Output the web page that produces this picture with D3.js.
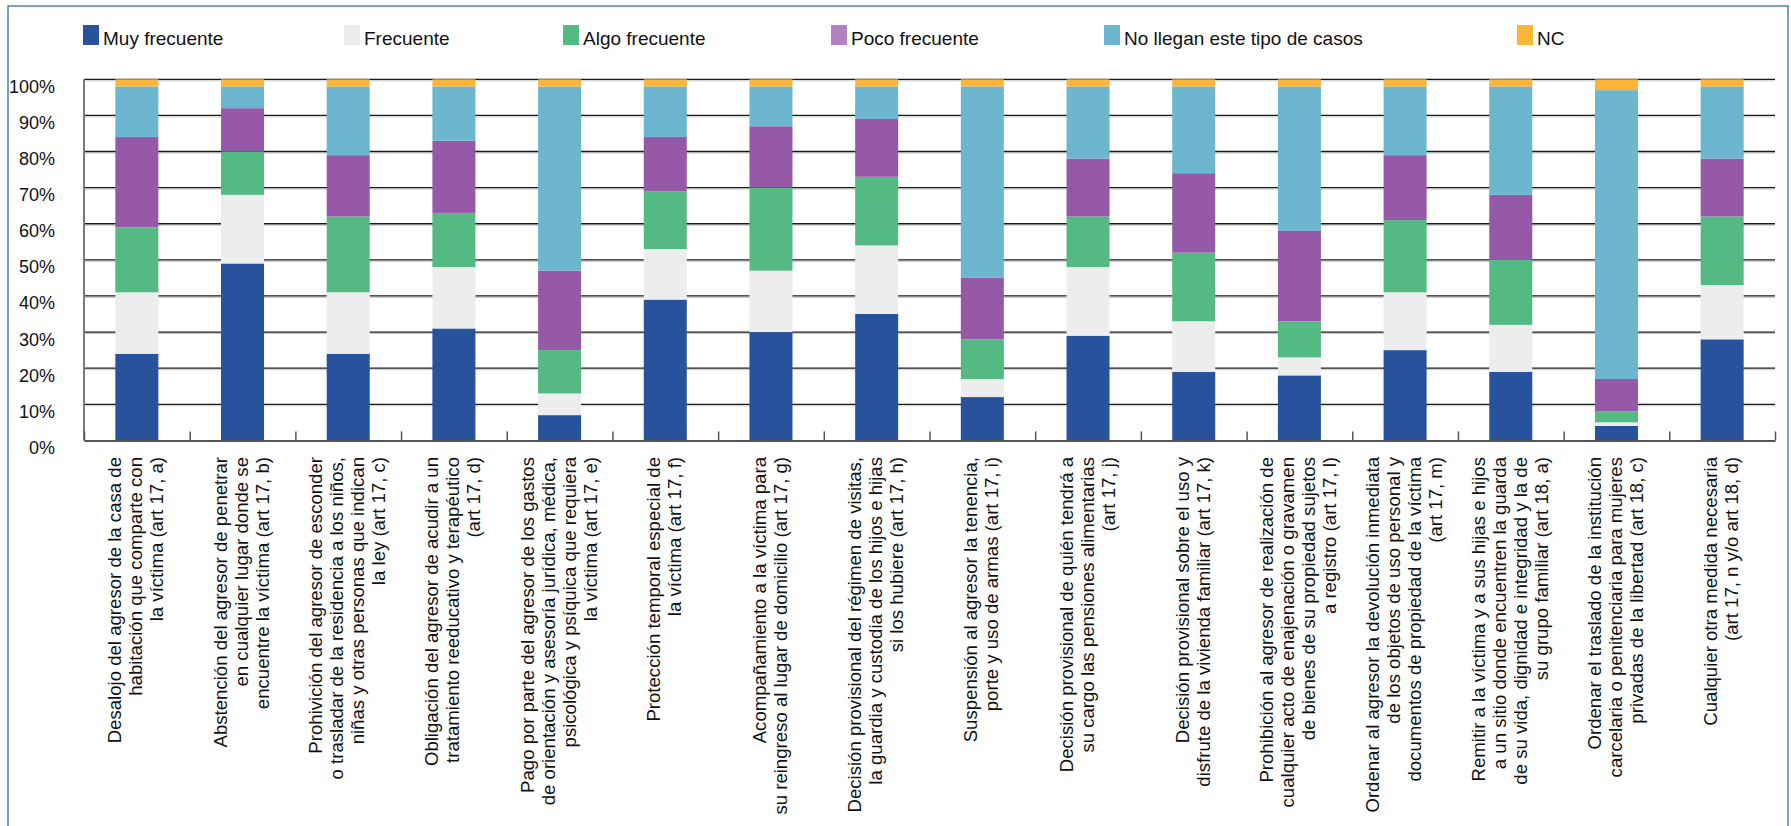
<!DOCTYPE html>
<html>
<head>
<meta charset="utf-8">
<script src="https://cdn.jsdelivr.net/npm/d3@7"></script>
<style>
  body { margin: 0; background: #fff; }
  svg { display: block; font-family: "Liberation Sans", Arial, Helvetica, sans-serif; }
</style>
</head>
<body>
<div id="chart"></div>
<script>
// categorías (cada etiqueta partida en líneas como en el original)
const categories = [
  ['Desalojo del agresor de la casa de', 'habitación que comparte con', 'la víctima (art 17, a)'],
  ['Abstención del agresor de penetrar', 'en cualquier lugar donde se', 'encuentre la víctima (art 17, b)'],
  ['Prohivición del agresor de esconder', 'o trasladar de la residencia a los niños,', 'niñas y otras personas que indican', 'la ley (art 17, c)'],
  ['Obligación del agresor de acudir a un', 'tratamiento reeducativo y terapéutico', '(art 17, d)'],
  ['Pago por parte del agresor de los gastos', 'de orientación y asesoría jurídica, médica,', 'psicológica y psíquica que requiera', 'la víctima (art 17, e)'],
  ['Protección temporal especial de', 'la víctima (art 17, f)'],
  ['Acompañamiento a la víctima para', 'su reingreso al lugar de domicilio (art 17, g)'],
  ['Decisión provisional del régimen de visitas,', 'la guardia y custodia de los hijos e hijas', 'si los hubiere (art 17, h)'],
  ['Suspensión al agresor la tenencia,', 'porte y uso de armas (art 17, i)'],
  ['Decisión provisional de quién tendrá a', 'su cargo las pensiones alimentarias', '(art 17, j)'],
  ['Decisión provisional sobre el uso y', 'disfrute de la vivienda familiar (art 17, k)'],
  ['Prohibición al agresor de realización de', 'cualquier acto de enajenación o gravamen', 'de bienes de su propiedad sujetos', 'a registro (art 17, l)'],
  ['Ordenar al agresor la devolución inmediata', 'de los objetos de uso personal y', 'documentos de propiedad de la víctima', '(art 17, m)'],
  ['Remitir a la víctima y a sus hijas e hijos', 'a un sitio donde encuentren la guarda', 'de su vida, dignidad e integridad y la de', 'su grupo familiar (art 18, a)'],
  ['Ordenar el traslado de la institución', 'carcelaria o penitenciaria para mujeres', 'privadas de la libertad (art 18, c)'],
  ['Cualquier otra medida necesaria', '(art 17, n y/o art 18, d)']
];

const seriesNames = ['Muy frecuente', 'Frecuente', 'Algo frecuente', 'Poco frecuente', 'No llegan este tipo de casos', 'NC'];

const muyFrecuente  = [24, 49, 24, 31,  7, 39, 30, 35, 12, 29, 19, 18, 25, 19,  4, 28];
const frecuente     = [17, 19, 17, 17,  6, 14, 17, 19,  5, 19, 14,  5, 16, 13,  1, 15];
const algoFrecuente = [18, 12, 21, 15, 12, 16, 23, 19, 11, 14, 19, 10, 20, 18,  3, 19];
const pocoFrecuente = [25, 12, 17, 20, 22, 15, 17, 16, 17, 16, 22, 25, 18, 18,  9, 16];
const noLlegan      = [14,  6, 19, 15, 51, 14, 11,  9, 53, 20, 24, 40, 19, 30, 80, 20];
const nc            = [ 2,  2,  2,  2,  2,  2,  2,  2,  2,  2,  2,  2,  2,  2,  3,  2];

const yTicks = [0, 10, 20, 30, 40, 50, 60, 70, 80, 90, 100];

const colors = ['#28539c', '#ededed', '#55b983', '#9659a8', '#6cb7cf', '#fbb63a'];
const legendColors = ['#28539c', '#ededed', '#55b983', '#b182c2', '#6cb7cf', '#fbb63a'];
const legendX = [83, 344, 563, 831, 1104, 1517];

const W = 1791, H = 826;
const plot = { left: 84, right: 1775, top: 79.3, bottom: 440.4 };

const svg = d3.select('#chart').append('svg')
  .attr('width', W)
  .attr('height', H);

// marco exterior
svg.append('rect')
  .attr('x', 8).attr('y', 6)
  .attr('width', 1780).attr('height', 840)
  .attr('fill', 'none')
  .attr('stroke', '#4f81bd')
  .attr('stroke-width', 1.5);

const rows = categories.map((c, i) => ({
  i,
  'Muy frecuente': muyFrecuente[i],
  'Frecuente': frecuente[i],
  'Algo frecuente': algoFrecuente[i],
  'Poco frecuente': pocoFrecuente[i],
  'No llegan este tipo de casos': noLlegan[i],
  'NC': nc[i]
}));

const x = d3.scaleBand()
  .domain(d3.range(categories.length))
  .range([plot.left, plot.right])
  .paddingInner(0.593)
  .paddingOuter(0.2965);

const y = d3.scaleLinear()
  .domain([0, 100])
  .range([plot.bottom, plot.top]);

// líneas de cuadrícula
const grid = svg.append('g');
yTicks.filter(t => t > 0).forEach(t => {
  grid.append('line')
    .attr('x1', plot.left).attr('x2', plot.right)
    .attr('y1', y(t) + 1.5).attr('y2', y(t) + 1.5)
    .attr('stroke', '#c8c8c8').attr('stroke-width', 1);
  grid.append('line')
    .attr('x1', plot.left).attr('x2', plot.right)
    .attr('y1', y(t)).attr('y2', y(t))
    .attr('stroke', '#1a1a1a').attr('stroke-width', 1.3);
});

// barras apiladas
const stack = d3.stack().keys(seriesNames);
const layers = stack(rows);

svg.append('g')
  .selectAll('g')
  .data(layers)
  .join('g')
  .attr('fill', (d, k) => colors[k])
  .selectAll('rect')
  .data(d => d)
  .join('rect')
  .attr('x', d => x(d.data.i))
  .attr('width', x.bandwidth())
  .attr('y', d => y(d[1]))
  .attr('height', d => y(d[0]) - y(d[1]));

// eje Y
const yAxis = d3.axisLeft(y)
  .tickValues(yTicks)
  .tickFormat(d => d + '%')
  .tickSize(0)
  .tickPadding(29);

const gy = svg.append('g')
  .attr('transform', `translate(${plot.left},0)`)
  .call(yAxis);
gy.select('.domain').remove();
gy.selectAll('text')
  .attr('dy', '0.72em')
  .attr('font-size', 18)
  .attr('font-family', '"Liberation Sans", Arial, sans-serif')
  .attr('fill', '#111');

svg.append('line')
  .attr('x1', plot.left).attr('x2', plot.left)
  .attr('y1', plot.top).attr('y2', plot.bottom)
  .attr('stroke', '#7a7a7a').attr('stroke-width', 2);

// eje X: marcas en los límites de cada categoría
const xEdges = d3.scaleLinear()
  .domain([0, categories.length])
  .range([plot.left, plot.right]);

const gx = svg.append('g')
  .attr('transform', `translate(0,${plot.bottom})`)
  .call(d3.axisBottom(xEdges)
    .tickValues(d3.range(categories.length + 1))
    .tickSizeInner(-9)
    .tickSizeOuter(0)
    .tickFormat(''));
gx.select('.domain')
  .attr('stroke', '#555')
  .attr('stroke-width', 2);
gx.selectAll('.tick line')
  .attr('stroke', '#555')
  .attr('stroke-width', 1.5);

// etiquetas de categoría, giradas
const lineH = 21;
const labels = svg.append('g')
  .selectAll('text')
  .data(categories)
  .join('text')
  .attr('transform', (d, i) => `translate(${x(i) + x.bandwidth() / 2},457) rotate(-90)`)
  .attr('text-anchor', 'end')
  .attr('font-size', 18.6)
  .attr('fill', '#111');

labels.each(function (lines) {
  const t = d3.select(this);
  const n = lines.length;
  lines.forEach((ln, j) => {
    t.append('tspan')
      .attr('x', 0)
      .attr('y', (j - (n - 1) / 2) * lineH + 5.5)
      .text(ln);
  });
});

// leyenda
const legend = svg.append('g');
seriesNames.forEach((name, k) => {
  legend.append('rect')
    .attr('x', legendX[k]).attr('y', 25)
    .attr('width', 16).attr('height', 20)
    .attr('fill', legendColors[k]);
  legend.append('text')
    .attr('x', legendX[k] + 20).attr('y', 45)
    .attr('font-size', 19)
    .attr('fill', '#111')
    .text(name);
});
</script>
</body>
</html>
